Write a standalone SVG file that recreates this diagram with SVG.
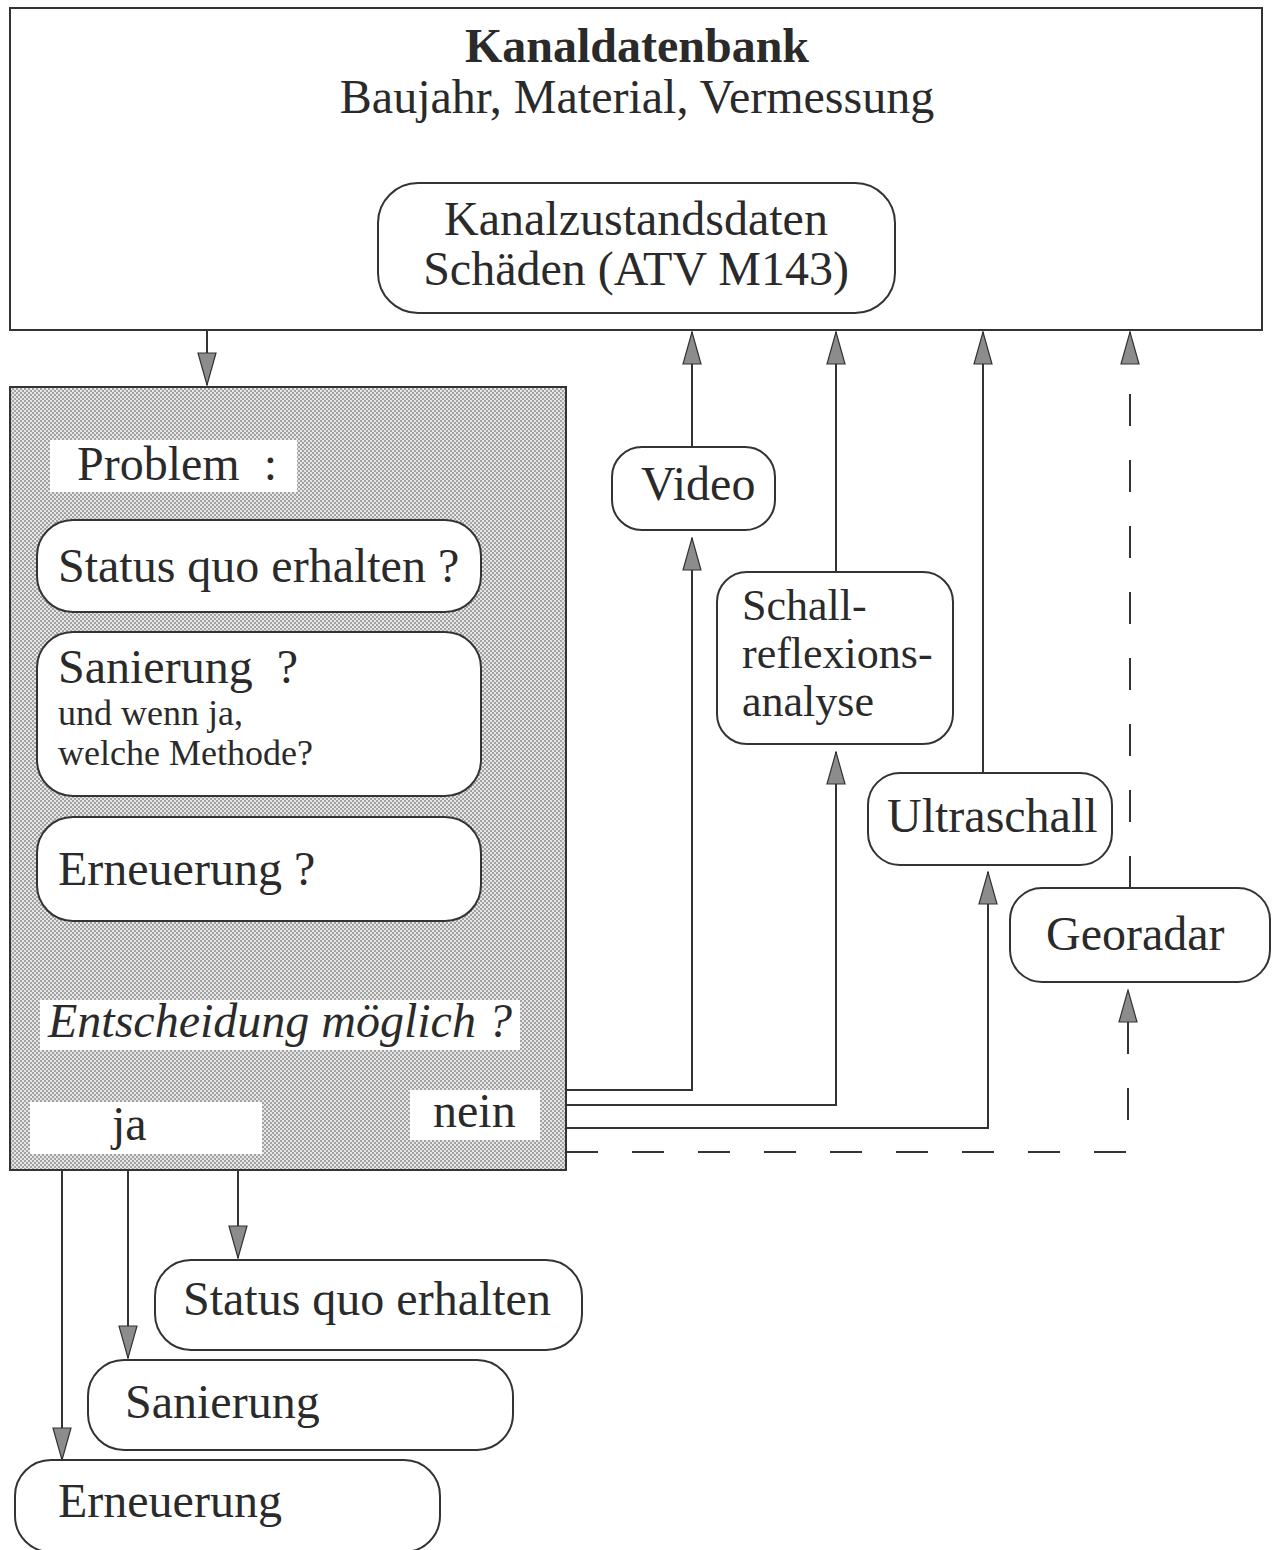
<svg xmlns="http://www.w3.org/2000/svg" width="1272" height="1550" viewBox="0 0 1272 1550">
<style>
text{font-family:"Liberation Serif","Times New Roman",serif;fill:#2a2a2a;font-size:48px}
.node{fill:#fff;stroke:#333;stroke-width:2}
.lbl{fill:#fff;stroke:none}
.c{fill:none;stroke:#333;stroke-width:2}
.d{stroke-dasharray:32 34}
.small{font-size:36px}
.mid{font-size:44px}
</style>
<defs>
<pattern id="dots" width="4" height="4" patternUnits="userSpaceOnUse">
<rect width="4" height="4" fill="#e6e6e6"/>
<rect width="2" height="2" fill="#a2a2a2"/>
<rect x="2" y="2" width="2" height="2" fill="#a2a2a2"/>
</pattern>
<marker id="ah" markerUnits="userSpaceOnUse" markerWidth="34" markerHeight="20" viewBox="0 0 34 20" refX="33" refY="10" orient="auto">
<path d="M1,1 L33,10 L1,19 Z" fill="#8c8c8c" stroke="#333" stroke-width="1.2"/>
</marker>
</defs>

<g id="kanaldatenbank">
<rect x="10" y="8" width="1252" height="322" class="node"/>
<text x="637" y="62" text-anchor="middle" font-weight="bold">Kanaldatenbank</text>
<text x="637" y="113" text-anchor="middle">Baujahr, Material, Vermessung</text>
</g>
<g id="kanalzustandsdaten">
<rect x="378" y="183" width="517" height="130" rx="40" class="node"/>
<text x="636" y="235" text-anchor="middle">Kanalzustandsdaten</text>
<text x="636" y="285" text-anchor="middle">Schäden (ATV M143)</text>
</g>

<g id="problem">
<rect x="10" y="387" width="556" height="783" fill="url(#dots)" stroke="#333" stroke-width="2"/>
<rect x="50" y="440" width="247" height="52" class="lbl"/>
<text x="77" y="480" xml:space="preserve">Problem  :</text>
</g>
<g id="status-frage">
<rect x="37" y="520" width="444" height="92" rx="36" class="node"/>
<text x="58" y="582">Status quo erhalten ?</text>
</g>
<g id="sanierung-frage">
<rect x="37" y="632" width="444" height="164" rx="36" class="node"/>
<text x="58" y="683" xml:space="preserve">Sanierung  ?</text>
<text x="58" y="725" class="small">und wenn ja,</text>
<text x="58" y="765" class="small">welche Methode?</text>
</g>
<g id="erneuerung-frage">
<rect x="37" y="817" width="444" height="104" rx="36" class="node"/>
<text x="58" y="885">Erneuerung ?</text>
</g>
<g id="entscheidung">
<rect x="40" y="1000" width="480" height="50" class="lbl"/>
<text x="48" y="1037" font-style="italic">Entscheidung möglich ?</text>
</g>
<g id="ja">
<rect x="30" y="1102" width="232" height="52" class="lbl"/>
<text x="112" y="1140">ja</text>
</g>
<g id="nein">
<rect x="410" y="1090" width="130" height="50" class="lbl"/>
<text x="433" y="1127">nein</text>
</g>

<g id="video">
<rect x="612" y="447" width="163" height="83" rx="30" class="node"/>
<text x="641" y="500">Video</text>
</g>
<g id="schallreflexionsanalyse">
<rect x="717" y="572" width="236" height="172" rx="30" class="node"/>
<text x="742" y="620" class="mid">Schall-</text>
<text x="742" y="668" class="mid">reflexions-</text>
<text x="742" y="716" class="mid">analyse</text>
</g>
<g id="ultraschall">
<rect x="868" y="773" width="244" height="92" rx="32" class="node"/>
<text x="887" y="832">Ultraschall</text>
</g>
<g id="georadar">
<rect x="1010" y="888" width="260" height="94" rx="32" class="node"/>
<text x="1046" y="950">Georadar</text>
</g>

<g id="status-quo-erhalten">
<rect x="155" y="1260" width="427" height="90" rx="36" class="node"/>
<text x="183" y="1315">Status quo erhalten</text>
</g>
<g id="sanierung">
<rect x="88" y="1360" width="425" height="90" rx="36" class="node"/>
<text x="125" y="1418">Sanierung</text>
</g>
<g id="erneuerung">
<rect x="15" y="1460" width="425" height="92" rx="36" class="node"/>
<text x="58" y="1517">Erneuerung</text>
</g>

<g id="connectors">
<path d="M207,330 V385" class="c" marker-end="url(#ah)"/>
<path d="M692,447 V332" class="c" marker-end="url(#ah)"/>
<path d="M836,572 V332" class="c" marker-end="url(#ah)"/>
<path d="M983,773 V332" class="c" marker-end="url(#ah)"/>
<path d="M1130,888 V332" class="c d" marker-end="url(#ah)"/>
<path d="M566,1090 H692 V538" class="c" marker-end="url(#ah)"/>
<path d="M566,1105 H836 V752" class="c" marker-end="url(#ah)"/>
<path d="M566,1128 H988 V872" class="c" marker-end="url(#ah)"/>
<path d="M566,1152 H1128 V990" class="c d" marker-end="url(#ah)"/>
<path d="M62,1170 V1460" class="c" marker-end="url(#ah)"/>
<path d="M128,1170 V1358" class="c" marker-end="url(#ah)"/>
<path d="M238,1170 V1258" class="c" marker-end="url(#ah)"/>
</g>
</svg>
